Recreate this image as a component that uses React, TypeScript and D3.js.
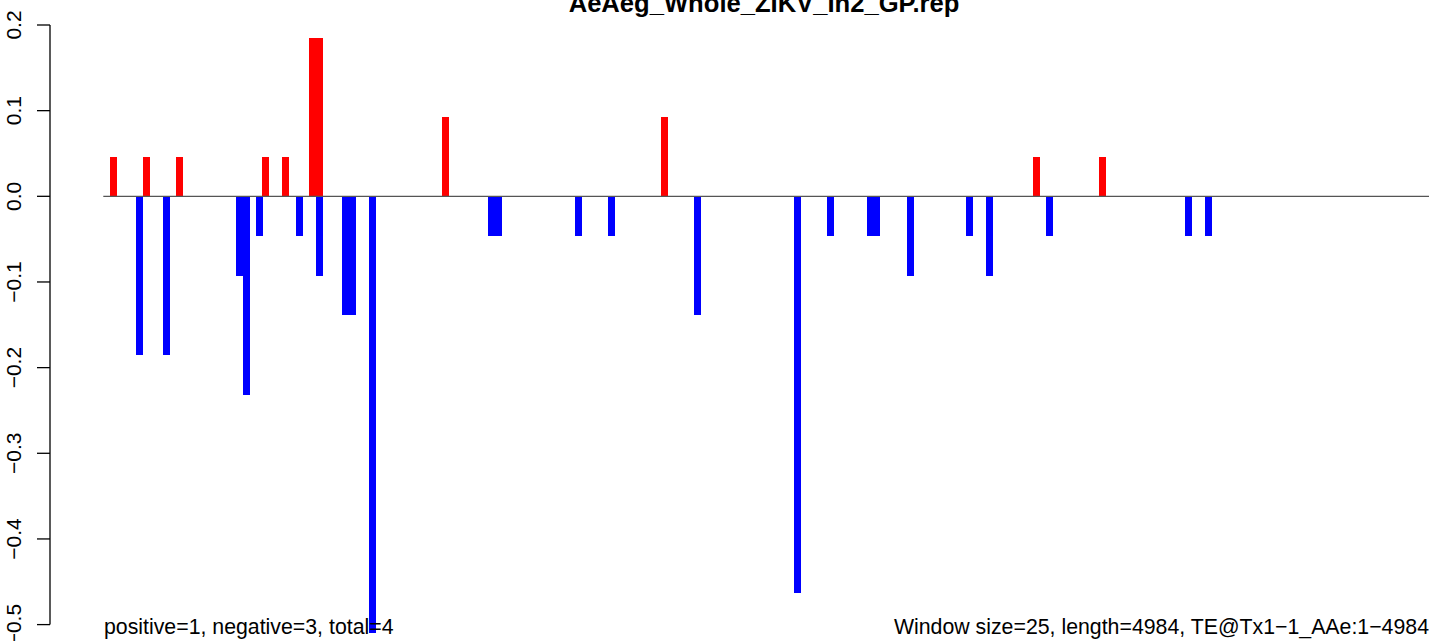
import React from "react";
import * as d3 from "d3";

const title = "AeAeg_Whole_ZIKV_In2_GP.rep";
const leftNote = "positive=1, negative=3, total=4";
const rightNote = "Window size=25, length=4984, TE@Tx1−1_AAe:1−4984";
const windowSize = 25;
const seqLength = 4984;
const yTicks = [-0.5, -0.4, -0.3, -0.2, -0.1, 0.0, 0.1, 0.2];

// window index (1-based), value
const posWindows = [1, 6, 11, 24, 27, 31, 32, 51, 84, 140, 150];
const posValues = [0.0463, 0.0463, 0.0463, 0.0463, 0.0463, 0.1852, 0.1852, 0.0926, 0.0926, 0.0463, 0.0463];

const negWindows = [5, 9, 20, 21, 23, 29, 32, 36, 37, 40, 58, 59, 71, 76, 89, 104, 109, 115, 116, 121, 130, 133, 142, 163, 166];
const negValues = [
  -0.1852, -0.1852, -0.0926, -0.2315, -0.0463, -0.0463, -0.0926, -0.1389, -0.1389, -0.5093,
  -0.0463, -0.0463, -0.0463, -0.0463, -0.1389, -0.463, -0.0463, -0.0463, -0.0463, -0.0926,
  -0.0463, -0.0926, -0.0463, -0.0463, -0.0463,
];

const W = 1429;
const H = 641;
const FONT = "'Liberation Sans', Arial, Helvetica, sans-serif";

export default function App() {
  const x = d3.scaleLinear().domain([0, seqLength]).range([103.3, 103.3 + (seqLength / windowSize) * 6.64]);
  const y = d3.scaleLinear().domain([-0.5, 0.2]).range([624.6, 25]);
  const barW = 7;
  const fmt = (v: number) => d3.format(".1f")(v).replace("-", "−");

  const bar = (w: number, v: number, color: string, key: string) => {
    const cx = x(w * windowSize + windowSize / 2);
    const y0 = y(0);
    const y1 = y(v);
    return (
      <rect
        key={key}
        x={Math.round(cx - barW / 2)}
        y={Math.min(y0, y1)}
        width={barW}
        height={Math.abs(y1 - y0)}
        fill={color}
        shapeRendering="crispEdges"
      />
    );
  };

  return (
    <svg
      width={W}
      height={H}
      style={{ position: "absolute", left: 0, top: 0, background: "#fff" }}
      fontFamily={FONT}
    >
      <rect x={0} y={0} width={W} height={H} fill="#fff" />
      <text x={764} y={12} textAnchor="middle" fontWeight="bold" fontSize={25.6} fill="#000">
        {title}
      </text>
      {posWindows.map((w, i) => bar(w, posValues[i], "#ff0000", "p" + i))}
      {negWindows.map((w, i) => bar(w, negValues[i], "#0000ff", "n" + i))}
      <line x1={x(0)} x2={W} y1={y(0)} y2={y(0)} stroke="#555" strokeWidth={1.2} />
      <line x1={50} x2={50} y1={y(0.2)} y2={y(-0.5)} stroke="#000" strokeWidth={1.3} />
      {yTicks.map((t) => (
        <g key={t}>
          <line x1={37} x2={50} y1={y(t)} y2={y(t)} stroke="#000" strokeWidth={1.3} />
          <text
            transform={`translate(21,${y(t)}) rotate(-90)`}
            textAnchor="middle"
            fontSize={21}
            fill="#000"
          >
            {fmt(t)}
          </text>
        </g>
      ))}
      <text x={104} y={634} fontSize={21.3} fill="#000">
        {leftNote}
      </text>
      <text x={1429} y={634} textAnchor="end" fontSize={21.3} fill="#000">
        {rightNote}
      </text>
    </svg>
  );
}
